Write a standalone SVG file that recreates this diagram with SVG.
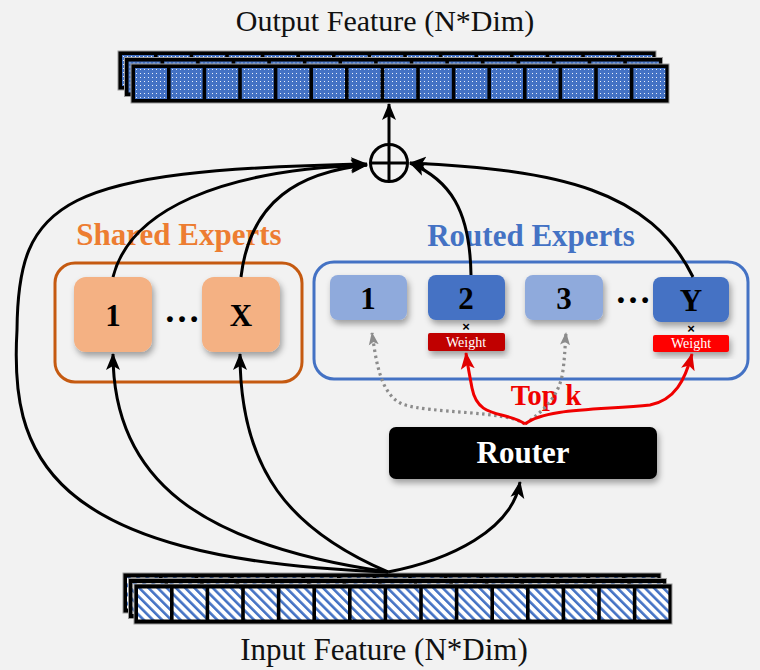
<svg xmlns="http://www.w3.org/2000/svg" xmlns:xlink="http://www.w3.org/1999/xlink" width="760" height="670" viewBox="0 0 760 670">
<style>
  .serif { font-family: "Liberation Serif", "Times New Roman", serif; }
  .title { font-size: 30px; fill: #111; text-anchor: middle; }
  .lbl { font-size: 31px; font-weight: bold; fill: #000; text-anchor: middle; }
  .dots { font-size: 36px; font-weight: bold; fill: #000; text-anchor: middle; }
  .wt { font-size: 14px; fill: #fff; text-anchor: middle; }
  .mul { font-family: "Liberation Sans", Arial, sans-serif; font-size: 13px; font-weight: bold; fill: #000; text-anchor: middle; }
  .conn { fill: none; stroke: #000; stroke-width: 3; marker-end: url(#ah); }
  .red { fill: none; stroke: #f00000; stroke-width: 3; marker-end: url(#ahr); }
  .gray { fill: none; stroke: #8c8c8c; stroke-width: 3.2; stroke-dasharray: 2.5 3.5; marker-end: url(#ahg); }
</style>
<defs>
  <pattern id="dotp" width="4" height="4" patternUnits="userSpaceOnUse">
    <rect width="4" height="4" fill="#4472c4"/>
    <rect x="1" y="1" width="1" height="1" fill="#ffffff" opacity="0.9"/>
  </pattern>
  <pattern id="stripep" width="6.5" height="6.5" patternUnits="userSpaceOnUse" patternTransform="rotate(-45)">
    <rect width="6.5" height="6.5" fill="#ffffff"/>
    <rect width="2.6" height="6.5" fill="#4472c4"/>
  </pattern>
  <g id="cells">
    <rect x="4" y="4" width="32" height="31"/>
    <rect x="39.6" y="4" width="32" height="31"/>
    <rect x="75.2" y="4" width="32" height="31"/>
    <rect x="110.8" y="4" width="32" height="31"/>
    <rect x="146.4" y="4" width="32" height="31"/>
    <rect x="182" y="4" width="32" height="31"/>
    <rect x="217.6" y="4" width="32" height="31"/>
    <rect x="253.2" y="4" width="32" height="31"/>
    <rect x="288.8" y="4" width="32" height="31"/>
    <rect x="324.4" y="4" width="32" height="31"/>
    <rect x="360" y="4" width="32" height="31"/>
    <rect x="395.6" y="4" width="32" height="31"/>
    <rect x="431.2" y="4" width="32" height="31"/>
    <rect x="466.8" y="4" width="32" height="31"/>
    <rect x="502.4" y="4" width="32" height="31"/>
  </g>
  <g id="barOut">
    <rect width="538" height="39" fill="#000" stroke="#9a9a9a" stroke-width="1"/>
    <use xlink:href="#cells" fill="url(#dotp)"/>
  </g>
  <g id="barIn">
    <rect width="538" height="40" fill="#000" stroke="#9a9a9a" stroke-width="1"/>
    <use xlink:href="#cells" fill="url(#stripep)" transform="translate(0,0.5)"/>
  </g>
  <filter id="sh" x="-20%" y="-20%" width="150%" height="160%">
    <feDropShadow dx="2" dy="4" stdDeviation="3" flood-color="#000" flood-opacity="0.35"/>
  </filter>
  <marker id="ah" markerUnits="userSpaceOnUse" markerWidth="18" markerHeight="16" refX="16" refY="8" orient="auto" viewBox="0 0 18 16">
    <path d="M0,1 L17,8 L0,15 L4,8 Z" fill="#000"/>
  </marker>
  <marker id="ahr" markerUnits="userSpaceOnUse" markerWidth="18" markerHeight="16" refX="16" refY="8" orient="auto" viewBox="0 0 18 16">
    <path d="M0,1 L17,8 L0,15 L4,8 Z" fill="#e00000"/>
  </marker>
  <marker id="ahg" markerUnits="userSpaceOnUse" markerWidth="14" markerHeight="12" refX="12" refY="6" orient="auto" viewBox="0 0 14 12">
    <path d="M0,1 L13,6 L0,11 L3,6 Z" fill="#8c8c8c"/>
  </marker>
</defs>

<rect width="760" height="670" fill="#f2f2f2"/>

<g id="output-feature">
  <text class="serif title" x="385" y="31">Output Feature (N*Dim)</text>
  <use xlink:href="#barOut" x="118" y="51"/>
  <use xlink:href="#barOut" x="124.5" y="57.5"/>
  <use xlink:href="#barOut" x="131" y="64"/>
</g>

<g id="input-feature">
  <use xlink:href="#barIn" x="123" y="573"/>
  <use xlink:href="#barIn" x="128.5" y="578.5"/>
  <use xlink:href="#barIn" x="134" y="584"/>
  <text class="serif title" x="384" y="660" style="font-size:31px">Input Feature (N*Dim)</text>
</g>

<g id="sum">
  <circle cx="389" cy="163" r="18.5" fill="none" stroke="#000" stroke-width="3"/>
  <line x1="389" y1="144.5" x2="389" y2="181.5" stroke="#000" stroke-width="3"/>
  <line x1="370.5" y1="163" x2="407.5" y2="163" stroke="#000" stroke-width="3"/>
</g>

<g id="shared-experts">
  <text class="serif lbl" x="179" y="245" style="fill:#ed7d31">Shared Experts</text>
  <rect x="55" y="263" width="247" height="119" rx="20" fill="none" stroke="#c55a11" stroke-width="3"/>
  <text class="serif dots" x="182" y="322">…</text>
</g>
<g id="shared-1">
  <rect x="74" y="277" width="78" height="75" rx="12" fill="#f4b183" filter="url(#sh)"/>
  <text class="serif lbl" x="113" y="326">1</text>
</g>
<g id="shared-x">
  <rect x="202" y="277" width="78" height="75" rx="12" fill="#f4b183" filter="url(#sh)"/>
  <text class="serif lbl" x="241" y="326">X</text>
</g>

<g id="routed-experts">
  <text class="serif lbl" x="531" y="246" style="fill:#4472c4">Routed Experts</text>
  <rect x="314" y="262" width="434" height="117" rx="20" fill="none" stroke="#4472c4" stroke-width="3"/>
  <text class="serif dots" x="633" y="303">…</text>
</g>
<g id="routed-1">
  <rect x="330" y="275" width="77" height="45" rx="8" fill="#8faadc" filter="url(#sh)"/>
  <text class="serif lbl" x="368" y="309">1</text>
</g>
<g id="routed-2">
  <rect x="428" y="275" width="77" height="45" rx="8" fill="#4472c4" filter="url(#sh)"/>
  <text class="serif lbl" x="466" y="309">2</text>
  <text class="mul" x="466" y="330.5">×</text>
  <rect x="428" y="333" width="77" height="18" rx="2" fill="#c00000" filter="url(#sh)"/>
  <text class="serif wt" x="466" y="346.5">Weight</text>
</g>
<g id="routed-3">
  <rect x="525" y="275" width="78" height="45" rx="8" fill="#8faadc" filter="url(#sh)"/>
  <text class="serif lbl" x="564" y="309">3</text>
</g>
<g id="routed-y">
  <rect x="653" y="277" width="76" height="45" rx="8" fill="#4472c4" filter="url(#sh)"/>
  <text class="serif lbl" x="691" y="311">Y</text>
  <text class="mul" x="691" y="332.5">×</text>
  <rect x="653" y="335" width="76" height="17" rx="2" fill="#ff0000" filter="url(#sh)"/>
  <text class="serif wt" x="691" y="348">Weight</text>
</g>

<g id="router">
  <rect x="389" y="427" width="268" height="52" rx="7" fill="#000" filter="url(#sh)"/>
  <text class="serif lbl" x="523" y="463" style="fill:#fff">Router</text>
</g>

<g id="topk-label">
  <text class="serif lbl" x="546" y="405" style="fill:#f00000;font-size:29px">Top k</text>
</g>

<g id="connectors">
  <path class="conn" d="M388,572 C40,560 10,450 17,330 C18,200 60,170 367,164"/>
  <path class="conn" d="M388,572 C200,545 113,480 113,354"/>
  <path class="conn" d="M388,572 C290,530 240,470 240,354"/>
  <path class="conn" d="M388,572 C450,560 512,530 520,482"/>
  <path class="conn" d="M113,277 C130,210 220,170 367,165"/>
  <path class="conn" d="M241,277 C250,200 300,172 367,165"/>
  <path class="conn" d="M471,275 C470,210 450,180 410,163"/>
  <path class="conn" d="M693,277 C650,190 560,170 410,163"/>
  <path class="conn" d="M389,144 L389,104"/>
  <path class="gray" d="M525,424 C505,410 430,414 402,404 C380,394 376,360 372,333"/>
  <path class="gray" d="M525,424 C545,410 560,395 563,370 C565,355 565,345 566,333"/>
  <path class="red" d="M525,424 C505,410 478,420 472,388 C469,372 467,362 466,353"/>
  <path class="red" d="M525,424 C545,408 600,410 650,405 C675,400 685,380 692,354"/>
</g>
</svg>
